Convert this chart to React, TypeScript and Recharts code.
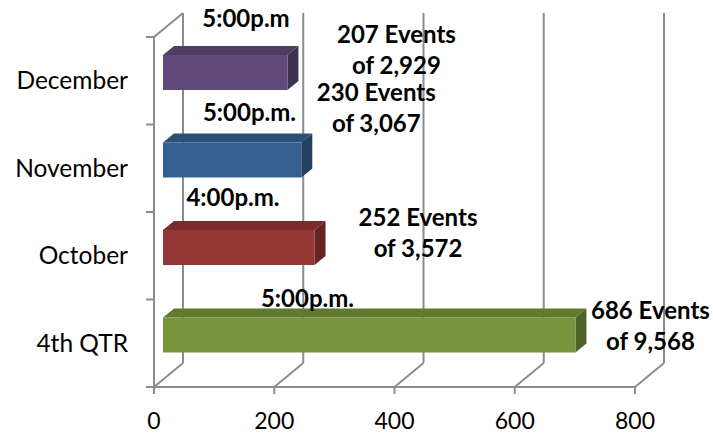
import React from 'react';
import { BarChart, Bar, XAxis, YAxis, CartesianGrid, LabelList } from 'recharts';

// ---- data ----
const categories = ['December', 'November', 'October', '4th QTR'];
const eventCounts = [207, 230, 252, 686];
const eventTotals = [2929, 3067, 3572, 9568];
const peakTimes = ['5:00p.m', '5:00p.m.', '4:00p.m.', '5:00p.m.'];
const xTicks = [0, 200, 400, 600, 800];

// ---- styles ----
const frontColors = ['#604A7B', '#376092', '#953735', '#77933C'];
const topColors = ['#4E3D65', '#2C4E77', '#7A2C2B', '#617A30'];
const sideColors = ['#3F3151', '#24405F', '#632423', '#4F6228'];

// manually placed label offsets (center x, baseline) — layout only
const timeLabelOffsets = [[83, -28], [86.5, -22], [70, -24], [144.5, -11]];
const eventLabelOffsets = [[109, -12.5], [75, -41.5], [103.5, -4], [75, 1]];
const LINE_GAP = 31;

const W = 713;
const H = 433;
const M = { top: 37, right: 78, bottom: 0, left: 0 };
const Y_W = 154;
const X_H = 46;
const PLOT_LEFT = M.left + Y_W;
const PLOT_TOP = M.top;
const PLOT_BOTTOM = H - M.bottom - X_H;
const PLOT_H = PLOT_BOTTOM - PLOT_TOP;
const WALL_DX = 29;
const WALL_DY = 24;
const BAR_DX = 9;
const BAR_DY = 8;
const SIDE_DX = 11;
const SIDE_DY = 9;
const GRID = '#8C8C8C';
const FONT = 'Lato, "Open Sans", sans-serif';

const data = categories.map((c, i) => ({
  category: c,
  events: eventCounts[i],
  total: eventTotals[i],
  time: peakTimes[i],
}));

const idxOf = (props: any) => {
  const c = props?.payload?.category ?? props?.category;
  const i = categories.indexOf(c);
  return i >= 0 ? i : props.index ?? 0;
};

const Box3D = (props: any) => {
  const { x, y, width, height } = props;
  const i = idxOf(props);
  const fx = x + BAR_DX;
  const fy = y - BAR_DY;
  const r = fx + width;
  return (
    <g>
      <polygon
        points={`${fx},${fy} ${r},${fy} ${r + SIDE_DX},${fy - SIDE_DY} ${fx + SIDE_DX},${fy - SIDE_DY}`}
        fill={topColors[i]}
      />
      <polygon
        points={`${r},${fy} ${r + SIDE_DX},${fy - SIDE_DY} ${r + SIDE_DX},${fy - SIDE_DY + height} ${r},${fy + height}`}
        fill={sideColors[i]}
      />
      <rect x={fx} y={fy} width={width} height={height} fill={frontColors[i]} />
    </g>
  );
};

const labelStyle = { fontFamily: FONT, fontWeight: 700, fontSize: 24, fill: '#000' } as const;

const BarLabels = (props: any) => {
  const vb = props.viewBox || {};
  const x = props.x ?? vb.x;
  const y = props.y ?? vb.y;
  const width = props.width ?? vb.width;
  const i = props.index ?? 0;
  const fx = x + BAR_DX;
  const fy = y - BAR_DY;
  const r = fx + width;
  const [tdx, tdy] = timeLabelOffsets[i];
  const [edx, edy] = eventLabelOffsets[i];
  return (
    <g>
      <text x={fx + tdx} y={fy + tdy} textAnchor="middle" {...labelStyle}>
        {peakTimes[i]}
      </text>
      <text x={r + edx} y={fy + edy} textAnchor="middle" {...labelStyle}>
        {`${eventCounts[i]} Events`}
      </text>
      <text x={r + edx} y={fy + edy + LINE_GAP} textAnchor="middle" {...labelStyle}>
        {`of ${eventTotals[i].toLocaleString('en-US')}`}
      </text>
    </g>
  );
};

const GridLine = (p: any) => {
  const { x1, y1, y2 } = p;
  const isLeft = Math.abs(x1 - PLOT_LEFT) < 1;
  return (
    <g key={p.key ?? `v-${x1}`}>
      <line x1={x1 + WALL_DX} y1={y1 - WALL_DY} x2={x1 + WALL_DX} y2={y2 - WALL_DY} stroke={GRID} strokeWidth={2} />
      <line x1={x1} y1={y2} x2={x1 + WALL_DX} y2={y2 - WALL_DY} stroke={GRID} strokeWidth={2} />
      {isLeft && <line x1={x1} y1={y1} x2={x1 + WALL_DX} y2={y1 - WALL_DY} stroke={GRID} strokeWidth={2} />}
    </g>
  );
};

const XTick = (p: any) => (
  <text x={p.x} y={PLOT_BOTTOM + 42} textAnchor="middle" fontFamily={FONT} fontSize={23} fill="#000">
    {p.payload.value}
  </text>
);

const YTick = (p: any) => {
  const step = PLOT_H / categories.length;
  const y = p.y;
  const i = p.index;
  return (
    <g>
      <text x={PLOT_LEFT - 26} y={y} dy="0.35em" textAnchor="end" fontFamily={FONT} fontSize={24.5} fill="#000">
        {p.payload.value}
      </text>
      <line x1={PLOT_LEFT - 8} y1={y - step / 2} x2={PLOT_LEFT} y2={y - step / 2} stroke={GRID} strokeWidth={2} />
      {i === categories.length - 1 && (
        <line x1={PLOT_LEFT - 8} y1={y + step / 2} x2={PLOT_LEFT} y2={y + step / 2} stroke={GRID} strokeWidth={2} />
      )}
    </g>
  );
};

export default function App() {
  return (
    <div style={{ position: 'absolute', left: 0, top: 0, width: W, height: H, background: '#fff' }}>
      <BarChart width={W} height={H} data={data} layout="vertical" margin={M}>
        <CartesianGrid horizontal={false} vertical={GridLine as any} />
        <XAxis
          type="number"
          domain={[0, 800]}
          ticks={xTicks}
          height={X_H}
          axisLine={{ stroke: GRID, strokeWidth: 2 }}
          tickLine={{ stroke: GRID, strokeWidth: 2 }}
          tickSize={7}
          tick={XTick}
          interval={0}
        />
        <YAxis
          type="category"
          dataKey="category"
          width={Y_W}
          axisLine={{ stroke: GRID, strokeWidth: 2 }}
          tickLine={false}
          tick={YTick}
          interval={0}
        />
        <Bar dataKey="events" barSize={35} isAnimationActive={false} shape={Box3D}>
          <LabelList dataKey="events" content={BarLabels} />
        </Bar>
      </BarChart>
    </div>
  );
}
